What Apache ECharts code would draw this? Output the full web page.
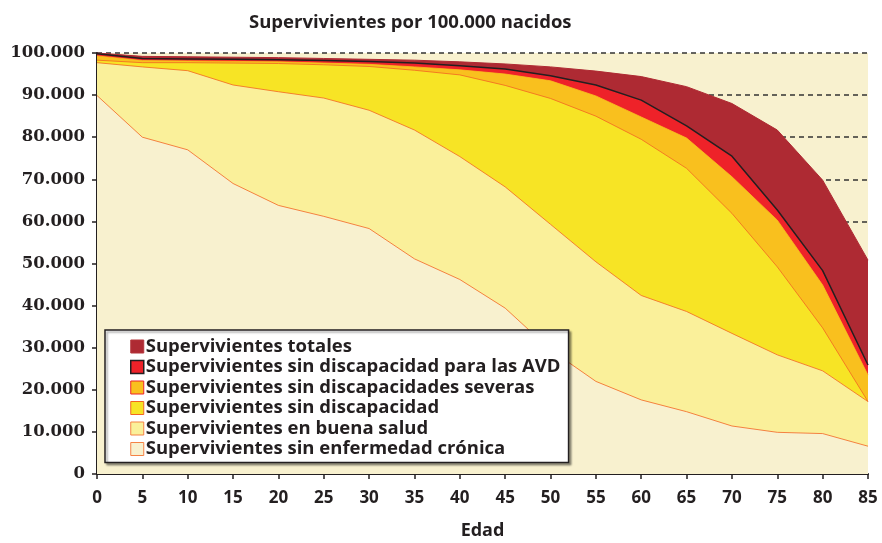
<!DOCTYPE html>
<html>
<head>
<meta charset="utf-8">
<script src="https://cdn.jsdelivr.net/npm/echarts@6/dist/echarts.min.js"></script>
<style>
  html, body { margin: 0; padding: 0; background: #fff; }
  #chart { width: 882px; height: 543px; }
</style>
</head>
<body>
<div id="chart"></div>
<script>
// edades (eje x)
const edades = ['0', '5', '10', '15', '20', '25', '30', '35', '40', '45', '50', '55', '60', '65', '70', '75', '80', '85']

// supervivientes por 100.000 nacidos
const totales = [100000, 99200, 99100, 99000, 98900, 98700, 98500, 98300, 97900, 97400, 96700, 95700, 94400, 92000, 88000, 81700, 69800, 50800]
const sinDiscapAVD = [99800, 98700, 98600, 98500, 98400, 98200, 98000, 97600, 97000, 96200, 94600, 92400, 88800, 82700, 75500, 62700, 48300, 25900]
const sinDiscapSeveras = [99300, 98200, 98100, 98000, 97900, 97600, 97300, 96700, 96000, 95000, 93400, 89800, 84800, 79800, 70600, 60300, 44900, 23500]
const sinDiscapacidad = [98300, 97700, 97700, 97600, 97500, 97200, 96800, 95900, 94800, 92300, 89200, 85000, 79500, 72600, 61900, 49200, 34700, 17200]
const buenaSalud = [97700, 96700, 95800, 92400, 90800, 89300, 86400, 81700, 75400, 68200, 59300, 50400, 42400, 38600, 33400, 28300, 24500, 17200]
const sinEnfCronica = [89900, 80000, 77000, 69000, 63800, 61200, 58300, 51100, 46200, 39400, 29500, 22000, 17600, 14800, 11400, 9900, 9600, 6600]

const nombres = [
  'Supervivientes totales',
  'Supervivientes sin discapacidad para las AVD',
  'Supervivientes sin discapacidades severas',
  'Supervivientes sin discapacidad',
  'Supervivientes en buena salud',
  'Supervivientes sin enfermedad crónica'
]

const SANS = '"Open Sans"'
const SERIF = '"DejaVu Serif"'
const INK = '#231F20'

function puntos (v) {
  return String(v).replace(/\B(?=(\d{3})+(?!\d))/g, '.')
}

function serie (name, data, fill, line, width) {
  return {
    type: 'line',
    name: name,
    data: data,
    symbol: 'none',
    silent: true,
    lineStyle: { color: line, width: width },
    itemStyle: { color: fill },
    areaStyle: { color: fill, opacity: 1 }
  }
}

const chart = echarts.init(document.getElementById('chart'), null, { renderer: 'canvas' })

const option = {
  animation: false,
  title: {
    text: 'Supervivientes por 100.000 nacidos',
    left: 244,
    top: 8,
    textStyle: { fontFamily: SANS, fontWeight: 'bold', fontSize: 18.5, color: INK }
  },
  legend: {
    orient: 'vertical',
    left: 105,
    top: 330,
    padding: [7, 8, 4, 25],
    itemGap: 1.5,
    itemWidth: 13,
    itemHeight: 13,
    icon: 'rect',
    backgroundColor: '#ffffff',
    borderColor: INK,
    borderWidth: 1.5,
    borderRadius: 0,
    shadowColor: 'rgba(0,0,0,0.35)',
    shadowBlur: 2,
    shadowOffsetX: 2,
    shadowOffsetY: 2,
    textStyle: { fontFamily: SANS, fontWeight: 'bold', fontSize: 18.5, lineHeight: 17.6, color: INK, padding: [0, 0, 0, -3] },
    data: [
      { name: nombres[0], itemStyle: { color: '#AE2A33', borderColor: '#B3343B', borderWidth: 1 } },
      { name: nombres[1], itemStyle: { color: '#EE2229', borderColor: INK, borderWidth: 1.5 } },
      { name: nombres[2], itemStyle: { color: '#F9C01E', borderColor: '#EE2229', borderWidth: 1 } },
      { name: nombres[3], itemStyle: { color: '#F7E425', borderColor: '#F26522', borderWidth: 1 } },
      { name: nombres[4], itemStyle: { color: '#FAF09A', borderColor: '#F58345', borderWidth: 1 } },
      { name: nombres[5], itemStyle: { color: '#F8F1CF', borderColor: '#F58345', borderWidth: 1 } }
    ]
  },
  grid: {
    left: 97,
    right: 14,
    top: 53,
    bottom: 69,
    outerBoundsMode: 'none',
    show: true,
    backgroundColor: '#F8F1CF',
    borderWidth: 0
  },
  xAxis: {
    type: 'category',
    data: edades,
    boundaryGap: false,
    name: 'Edad',
    nameLocation: 'middle',
    nameGap: 48,
    nameTextStyle: { fontFamily: SANS, fontWeight: 'bold', fontSize: 18, color: INK },
    axisLine: { lineStyle: { color: INK, width: 2 } },
    axisTick: { show: true, length: 5, alignWithLabel: true, lineStyle: { color: INK, width: 1.5 } },
    axisLabel: { margin: 16, fontFamily: SANS, fontWeight: 'bold', fontSize: 17, color: INK },
    splitLine: { show: false }
  },
  yAxis: {
    type: 'value',
    min: 0,
    max: 100000,
    interval: 10000,
    axisLine: { show: true, lineStyle: { color: INK, width: 2 } },
    axisTick: { show: true, length: 5, lineStyle: { color: INK, width: 1.5 } },
    axisLabel: { margin: 12, fontFamily: SERIF, fontWeight: 'bold', fontSize: 16.5, color: INK, formatter: puntos },
    splitLine: { show: true, lineStyle: { color: '#333333', width: 1.5, type: [5, 4] } }
  },
  series: [
    serie(nombres[0], totales, '#AE2A33', '#AE2A33', 1),
    serie(nombres[1], sinDiscapAVD, '#EE2229', INK, 1.5),
    serie(nombres[2], sinDiscapSeveras, '#F9C01E', '#F9C01E', 0.8),
    serie(nombres[3], sinDiscapacidad, '#F7E425', '#F26522', 0.8),
    serie(nombres[4], buenaSalud, '#FAF09A', '#F26522', 0.8),
    serie(nombres[5], sinEnfCronica, '#F8F1CF', '#F26522', 0.8)
  ]
}

chart.setOption(option)
</script>
</body>
</html>
